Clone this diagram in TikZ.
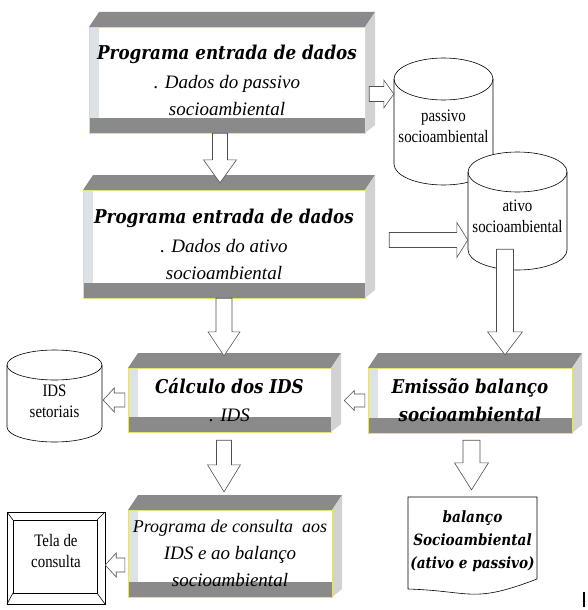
\documentclass[tikz,border=0pt]{standalone}
\usepackage{fontspec}
\usetikzlibrary{calc}
\newfontfamily\titlefont{DejaVu Serif}[FakeStretch=0.88]
\newfontfamily\notefont{Liberation Serif}
\newfontfamily\dbfont{Liberation Serif}[FakeStretch=0.85]
\newcommand{\ttl}[1]{{\titlefont\bfseries\itshape #1}}
\definecolor{bandgray}{RGB}{138,138,138}
\definecolor{sidegray}{RGB}{210,210,210}
\definecolor{stripgray}{RGB}{220,226,230}
\definecolor{edgeyellow}{RGB}{226,226,120}
\definecolor{arrline}{RGB}{80,80,80}
\tikzset{
  boxtext/.style={align=center, inner sep=0pt, font=\notefont\itshape\fontsize{19}{27}\selectfont},
  dbtext/.style={align=center, inner sep=0pt, font=\dbfont\fontsize{17.5}{21}\selectfont},
  blockarr/.style={fill=white, draw=arrline, line width=0.6pt},
}
% box with shaded top, side and bottom band
\newcommand{\progbox}[6]{%
  \fill[bandgray] (#2,#3) -- (#2+10,#3-15) -- (#4+10,#3-15) -- (#4,#3) -- cycle;
  \fill[sidegray] (#4,#3) -- (#4+10,#3-15) -- (#4+10,#5-8) -- (#4,#5) -- cycle;
  \fill[white] (#2,#3) rectangle (#4,#5);
  \fill[stripgray] (#2,#3) rectangle (#2+10,#5);
  \fill[bandgray] (#2,#5-15) rectangle (#4,#5);
  \draw[edgeyellow, line width=0.8pt] (#2,#3) rectangle (#4,#5);
  \node[boxtext, minimum width={(#4-#2)*1pt}, minimum height={(#5-#3)*1pt}]
    (#1) at ({(#2+#4)/2},{(#3+#5)/2}) {#6};
}
\newcommand{\dbcyl}[7]{%
  \filldraw[fill=white, line width=0.6pt] (#2-#5,#3+#6) -- (#2-#5,#4-#6) arc(180:0:#5 and #6)
    -- (#2+#5,#3+#6) arc(0:-180:#5 and #6) -- cycle;
  \draw[line width=0.6pt] (#2+#5,#3+#6) arc(0:180:#5 and #6);
  \node[dbtext, minimum width={2*#5*1pt}, minimum height={(#4-#3)*1pt}]
    (#1) at (#2,{(#3+#4)/2+5}) {#7};
}
\newcommand{\downblk}[5]{%
  \filldraw[blockarr] let \p1=(#1), \p2=(#2) in
    (\x1-#3pt,\y1) -- (\x1-#3pt,\y2+#5pt) -- (\x1-#4pt,\y2+#5pt) -- (\x1,\y2)
    -- (\x1+#4pt,\y2+#5pt) -- (\x1+#3pt,\y2+#5pt) -- (\x1+#3pt,\y1) -- cycle;
}
\newcommand{\leftblk}[5]{%
  \filldraw[blockarr] let \p1=(#1), \p2=(#2) in
    (\x1,\y1+#3pt) -- (\x2+#5pt,\y1+#3pt) -- (\x2+#5pt,\y1+#4pt) -- (\x2,\y1)
    -- (\x2+#5pt,\y1-#4pt) -- (\x2+#5pt,\y1-#3pt) -- (\x1,\y1-#3pt) -- cycle;
}
\newcommand{\rightblk}[5]{%
  \filldraw[blockarr] let \p1=(#1), \p2=(#2) in
    (\x1,\y1+#3pt) -- (\x2-#5pt,\y1+#3pt) -- (\x2-#5pt,\y1+#4pt) -- (\x2,\y1)
    -- (\x2-#5pt,\y1-#4pt) -- (\x2-#5pt,\y1-#3pt) -- (\x1,\y1-#3pt) -- cycle;
}
\begin{document}
\begin{tikzpicture}[x=1pt, y=-1pt]
  \useasboundingbox (0,0) rectangle (588,610);
  \fill[white] (0,0) rectangle (588,610);

  \progbox{box1}{89}{27}{365}{133}{\ttl{Programa entrada de dados}\\[2pt]. Dados do passivo\\socioambiental}
  \progbox{box2}{83}{190}{365}{298}{\ttl{Programa entrada de dados}\\[2pt]. Dados do ativo\\socioambiental}
  \progbox{calc}{128}{368}{331}{432}{\ttl{Cálculo dos IDS}\\[1pt]. IDS}
  \progbox{emissao}{368}{368}{572}{433}{\ttl{Emissão balanço}\\[1pt]\ttl{socioambiental}}
  \progbox{consulta}{128}{510}{332}{597}{\fontsize{18}{24.5}\selectfont Programa de consulta~ aos\\IDS e ao balanço\\socioambiental}

  \dbcyl{passivo}{443.5}{58}{185}{49.5}{21}{passivo\\socioambiental}
  \dbcyl{ativo}{517.5}{152}{270}{49.5}{20}{ativo\\socioambiental}
  \dbcyl{ids}{54.5}{350}{442}{47.5}{15}{IDS\\setoriais}

  % report sheet
  \filldraw[fill=white, line width=0.6pt] (408,497) -- (537,497) -- (537,579)
    .. controls (472,604) and (472,591) .. (408,589) -- cycle;
  \node[align=center, inner sep=0pt, minimum width=129pt, minimum height=92pt,
    font=\titlefont\bfseries\itshape\fontsize{15.5}{23}\selectfont]
    (balanco) at (472.5,541) {balanço\\Socioambiental\\(ativo e passivo)};

  % screen
  \draw[line width=0.6pt] (7,512) rectangle (105,604);
  \draw[line width=0.6pt] (13,520) rectangle (97,593);
  \draw[line width=0.6pt] (7,512) -- (13,520) (105,512) -- (97,520)
    (7,604) -- (13,593) (105,604) -- (97,593);
  \node[dbtext, minimum width=98pt, minimum height=92pt] (tela) at (56,551) {Tela de\\consulta};

  \downblk{[xshift=-7pt]box1.south}{[yshift=7pt]box2.north}{7.5}{16.5}{23}
  \downblk{box2.south}{[yshift=12pt]calc.north}{8}{16}{24}
  \downblk{[xshift=-5.5pt,yshift=-8pt]calc.south}{[yshift=18pt]consulta.north}{7.5}{16.5}{27}
  \downblk{[xshift=-12.5pt,yshift=26pt]ativo.south}{[yshift=13pt]emissao.north}{8.5}{17.5}{23}
  \downblk{[xshift=1.5pt,yshift=-7pt]emissao.south}{[yshift=5pt]balanco.north}{8.5}{17}{27}
  \rightblk{[xshift=4pt,yshift=-14pt]box1.east}{passivo.west}{7.5}{14}{10}
  \rightblk{[xshift=24pt,yshift=4pt]box2.east}{ativo.west}{7.5}{17.5}{11}
  \leftblk{[xshift=-3pt]emissao.west}{[xshift=13pt]calc.east}{6.5}{10}{10}
  \leftblk{[xshift=-3pt]calc.west}{[xshift=1pt]ids.east}{7}{12}{11}
  \leftblk{[xshift=-3pt,yshift=-11.5pt]consulta.west}{tela.east}{7}{12}{11}

  \fill (583,592) rectangle (585,607);
\end{tikzpicture}
\end{document}
